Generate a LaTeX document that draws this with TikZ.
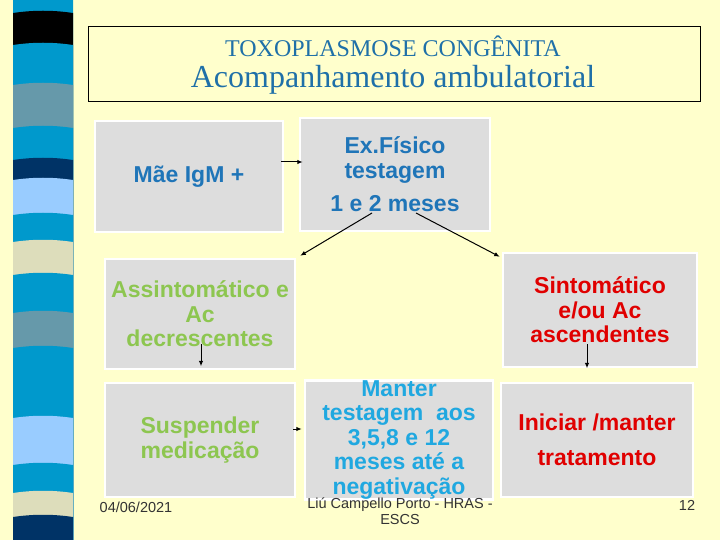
\documentclass[tikz,border=0pt]{standalone}
\usepackage{fontspec}
\setmainfont{Liberation Serif}
\newfontfamily\arialfont{Liberation Sans}
\usetikzlibrary{arrows.meta}

\definecolor{slidebg}{HTML}{FFFFCC}
\definecolor{stripeblue}{HTML}{0099CC}
\definecolor{stripegray}{HTML}{6699AA}
\definecolor{stripenavy}{HTML}{003366}
\definecolor{stripesky}{HTML}{99CCFF}
\definecolor{stripesand}{HTML}{DDDDBB}
\definecolor{titleblue}{HTML}{1F70A8}
\definecolor{boxgray}{HTML}{DDDDDD}
\definecolor{textblue}{HTML}{1F75B8}
\definecolor{textgreen}{HTML}{8DC650}
\definecolor{textred}{HTML}{E00000}
\definecolor{textcyan}{HTML}{20A8E0}
\definecolor{footgray}{HTML}{333333}

\tikzset{
  flowbox/.style={fill=boxgray, draw=white, line width=2.5pt, inner sep=0pt,
    align=center, font=\arialfont\bfseries\fontsize{23}{24.5}\selectfont},
  link/.style={-{Latex[length=5.5pt,width=4.5pt]}, line width=1pt},
  footer/.style={font=\arialfont\fontsize{14.5}{16}\selectfont, text=footgray, align=center},
}

\begin{document}
\begin{tikzpicture}[x=1pt, y=-1pt]
  \useasboundingbox (0,0) rectangle (720,540);
  % slide background
  \fill[slidebg] (0,0) rectangle (720,540);
  % striped band on the left
  \foreach \ya/\col in {0/stripeblue, 13/black, 45/stripeblue, 85/stripegray,
      128/stripeblue, 160/stripenavy, 180/stripesky, 215/stripeblue,
      242/stripesand, 275/stripeblue, 313/stripegray, 348/stripeblue,
      418/stripesky, 465/stripeblue, 493/stripesand, 517/stripenavy}
    \fill[\col] (13,\ya) .. controls (33,\ya-3) and (53,\ya-3) .. (73,\ya)
      -- (73,540) -- (13,540) -- cycle;

  % title
  \node[draw=black, line width=0.8pt, minimum width=612pt, minimum height=75pt,
    inner sep=0pt] (titlebox) at (394,63.5) {};
  \node[text=titleblue, font=\fontsize{24}{28}\selectfont] (subject) at (393,46)
    {TOXOPLASMOSE CONGÊNITA};
  \node[text=titleblue, font=\fontsize{32}{36}\selectfont] (title) at (393,80)
    {Acompanhamento ambulatorial};

  % first row
  \node[flowbox, minimum width=188pt, minimum height=111pt, text=textblue]
    (mae) at (189,176.5) {Mãe IgM +};
  \node[flowbox, minimum width=190pt, minimum height=113pt, text=textblue]
    (exame) at (395,174.5) {Ex.Físico\\testagem\\[9pt]1 e 2 meses};

  % second row
  \node[flowbox, minimum width=190pt, minimum height=110pt, text=textgreen]
    (assint) at (200,314) {Assintomático e\\Ac\\decrescentes};
  \node[flowbox, minimum width=194pt, minimum height=114pt, text=textred]
    (sint) at (600,310) {Sintomático\\e/ou Ac\\ascendentes};

  % third row
  \node[flowbox, minimum width=190pt, minimum height=114pt, text=textgreen]
    (susp) at (200,440) {Suspender\\medicação};
  \node[flowbox, minimum width=188pt, minimum height=114pt, text=textcyan]
    (manter) at (399,440) {Manter\\testagem~ aos\\3,5,8 e 12\\meses até a\\negativação};
  \node[flowbox, minimum width=192pt, minimum height=114pt, text=textred]
    (iniciar) at (597,440) {Iniciar /manter\\[10pt]tratamento};

  % connectors
  \draw[link] ([shift={(-3,-14.5)}]mae.east) -- ([shift={(4,-12.5)}]exame.west);
  \draw[link] ([shift={(-23,38.5)}]exame.center) -- ([shift={(4,-2)}]assint.north east);
  \draw[link] ([shift={(21,38.5)}]exame.center) -- ([shift={(-2,5)}]sint.north west);
  \draw[link] ([shift={(1,-26)}]assint.south) -- ([shift={(1,-4)}]assint.south);
  \draw[link] ([shift={(-13,-24)}]sint.south) -- ([shift={(-13,0)}]sint.south);
  \draw[link] ([shift={(-3,-11)}]susp.east) -- ([shift={(-2,-11)}]manter.west);

  % footer
  \node[footer] (date) at (136,507) {04/06/2021};
  \node[footer] (author) at (400,511) {Liú Campello Porto - HRAS -\\ESCS};
  \node[footer] (page) at (687,505) {12};
\end{tikzpicture}
\end{document}
